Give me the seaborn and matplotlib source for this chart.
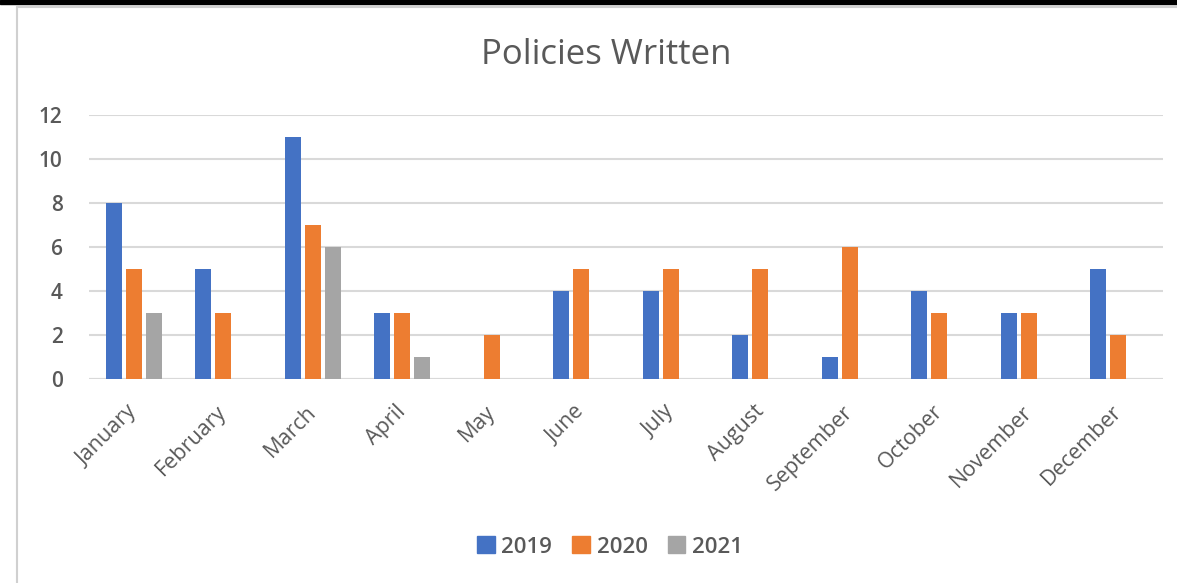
import matplotlib
matplotlib.use("Agg")
import matplotlib.pyplot as plt
import matplotlib.transforms as mtransforms
from matplotlib.lines import Line2D
from matplotlib.patches import Rectangle
import pandas as pd
import seaborn as sns

# Monthly policy counts per year
months = ["January", "February", "March", "April", "May", "June",
          "July", "August", "September", "October", "November", "December"]
years = ["2019", "2020", "2021"]
policies_2019 = [8, 5, 11, 3, 0, 4, 4, 2, 1, 4, 3, 5]
policies_2020 = [5, 3, 7, 3, 2, 5, 5, 5, 6, 3, 3, 2]
policies_2021 = [3, 0, 6, 1, 0, 0, 0, 0, 0, 0, 0, 0]
yticks = [0, 2, 4, 6, 8, 10, 12]

colors = ["#4472C4", "#ED7D31", "#A5A5A5"]
text_grey = "#595959"
grid_grey = "#D9D9D9"

df = pd.DataFrame({
    "Month": months * 3,
    "Year": [y for y in years for _ in months],
    "Policies": policies_2019 + policies_2020 + policies_2021,
})

sns.set_theme(style="white")
plt.rcParams["font.family"] = ["Open Sans", "DejaVu Sans"]

fig = plt.figure(figsize=(11.77, 5.83), dpi=100)
ax = fig.add_axes([89 / 1177, 1 - 379 / 583, (1163 - 89) / 1177, (379 - 115) / 583])

sns.barplot(data=df, x="Month", y="Policies", hue="Year", order=months,
            hue_order=years, palette=colors, width=0.67, gap=0.2,
            saturation=1, linewidth=0, ax=ax, legend=False)

ax.set_ylim(0, 12)
ax.set_yticks(yticks)
ax.set_xlim(-0.5, len(months) - 0.5)
ax.yaxis.grid(True, color=grid_grey, linewidth=1.5)
ax.set_axisbelow(True)
for s in ax.spines.values():
    s.set_visible(False)
ax.axhline(0, color=grid_grey, linewidth=1.5, zorder=0.5)
ax.set_xlabel("")
ax.set_ylabel("")
ax.tick_params(axis="both", length=0, colors=text_grey)
ax.tick_params(axis="y", pad=19, labelsize=15)
plt.setp(ax.get_yticklabels(), fontweight="semibold")
ax.tick_params(axis="x", pad=16, labelsize=15.5)
shift = mtransforms.ScaledTranslation(-7 / 100, 0, fig.dpi_scale_trans)
for lbl in ax.get_xticklabels():
    lbl.set_rotation(45)
    lbl.set_ha("right")
    lbl.set_rotation_mode("anchor")
    lbl.set_transform(lbl.get_transform() + shift)

fig.text(606 / 1177, 1 - 55 / 583, "Policies Written", ha="center", va="center",
         fontsize=25, color=text_grey)

handles = [Rectangle((0, 0), 1, 1, color=c) for c in colors]
fig.legend(handles, years, loc="center", bbox_to_anchor=(610 / 1177, 1 - 547 / 583),
           ncol=3, frameon=False, handlelength=0.8, handleheight=0.8,
           handletextpad=0.3, columnspacing=0.9,
           prop={"size": 16, "weight": "semibold"}, labelcolor=text_grey)

# Frame decorations: black strip on top, light chart border
fig.add_artist(Rectangle((0, 1 - 4 / 583), 1, 4 / 583, transform=fig.transFigure,
                         color="black", zorder=10))
fig.add_artist(Line2D([17 / 1177, 17 / 1177], [0, 1 - 7 / 583],
                      transform=fig.transFigure, color="#D0D0D0", linewidth=1.5))
fig.add_artist(Line2D([17 / 1177, 1], [1 - 7 / 583, 1 - 7 / 583],
                      transform=fig.transFigure, color="#D0D0D0", linewidth=1.5))

fig.savefig("out.png", dpi=100)
